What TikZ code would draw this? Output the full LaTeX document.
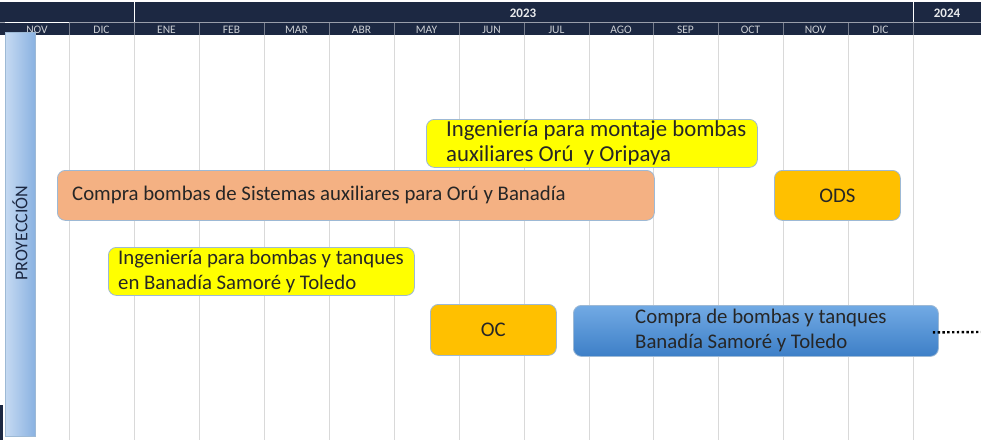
\documentclass[tikz,border=0pt]{standalone}
\usepackage{fontspec}
\setmainfont{Carlito}
\usepackage{tikz}

\definecolor{navy}{HTML}{1C2842}
\definecolor{gridgray}{HTML}{D9D9D9}
\definecolor{boxline}{HTML}{9DB9D5}
\definecolor{salmon}{HTML}{F4B183}
\definecolor{amber}{HTML}{FFC000}
\definecolor{lemon}{HTML}{FFFF00}
\definecolor{txt}{HTML}{262626}
\definecolor{bartop}{HTML}{72AAE4}
\definecolor{barbot}{HTML}{3D7FC7}
\definecolor{sideleft}{HTML}{C6DAF2}
\definecolor{sideright}{HTML}{8AB2E1}

\tikzset{
  month/.style={text=white!78!navy, font=\fontsize{11.5}{12}\selectfont},
  year/.style={text=white!90!navy, font=\bfseries\fontsize{13}{13}\selectfont},
  gridline/.style={gridgray, line width=0.8pt},
  task/.style={draw=boxline, line width=0.8pt, rounded corners=8pt, anchor=north west,
    inner sep=0pt},
  tasktext/.style={anchor=west, align=left, text=txt, inner sep=0pt,
    font=\fontsize{20.8}{25}\selectfont},
}

\begin{document}
\begin{tikzpicture}[x=1pt,y=-1pt]
\useasboundingbox (0,0) rectangle (981,440);
\fill[white] (0,0) rectangle (981,440);
% header
\fill[navy] (0,2) rectangle (981,35);
\draw[white, line width=1pt] (134,2) -- (134,22);
\draw[white, line width=1pt] (913,2) -- (913,22);
\draw[white!55!navy, line width=0.6pt] (0,22.5) -- (981,22.5);
\draw[white, line width=1.2pt] (5,22.5) -- (69,22.5);
\foreach \x in {69,134,199,264,329,394,459,524,589,653,718,783,848,913}
  \draw[white!40!navy, line width=0.6pt] (\x,23) -- (\x,35);
\node[year] (y2023) at (523,13) {2023};
\node[year] (y2024) at (947,13) {2024};
\foreach \m/\x in {NOV/37,DIC/101.5,ENE/166.5,FEB/231.5,MAR/296.5,ABR/361.5,MAY/426.5,JUN/491.5,JUL/556.5,AGO/621,SEP/685.5,OCT/750.5,NOV/815.5,DIC/880.5}
  \node[month] at (\x,29.5) {\m};
% grid
\foreach \x in {69,134,199,264,329,394,459,524,589,653,718,783,848,913}
  \draw[gridline] (\x,35) -- (\x,440);
% side bar
\fill[navy] (0,405) rectangle (3,440);
\shade[left color=sideleft, right color=sideright, draw=boxline, line width=0.5pt] (5,32) rectangle (35,436);
\node[rotate=90, text=navy, font=\fontsize{18}{18}\selectfont] (proy) at (20,233) {PROYECCIÓN};
% tasks
\node[task, fill=lemon, minimum width=331, minimum height=48] (ingoru) at (426,119) {};
\node[tasktext, font=\fontsize{22.8}{25}\selectfont] (ingoru-t) at ([xshift=20]ingoru.west)
  {Ingeniería para montaje bombas\\auxiliares Orú\ \ y Oripaya};
\node[task, fill=salmon, minimum width=597, minimum height=50] (compraoru) at (57,170) {};
\node[tasktext] (compraoru-t) at ([xshift=15]compraoru.west)
  {Compra bombas de Sistemas auxiliares para Orú y Banadía};
\node[task, fill=amber, minimum width=126, minimum height=50] (ods) at (774,170) {};
\node[tasktext, anchor=center] (ods-t) at (ods.center) {ODS};
\node[task, fill=lemon, minimum width=306, minimum height=48] (ingban) at (108,247) {};
\node[tasktext] (ingban-t) at ([xshift=10]ingban.west)
  {Ingeniería para bombas y tanques\\en Banadía Samoré y Toledo};
\node[task, fill=amber, minimum width=126, minimum height=51] (oc) at (430,304) {};
\node[tasktext, anchor=center] (oc-t) at (oc.center) {OC};
\node[task, top color=bartop, bottom color=barbot, minimum width=365, minimum height=51] (compraban) at (573,305) {};
\node[tasktext] (compraban-t) at ([xshift=62]compraban.west)
  {Compra de bombas y tanques\\Banadía Samoré y Toledo};
\coordinate (cont) at (981,332);
\draw[black, line width=2.4pt, dash pattern=on 2.4pt off 2.4pt] ([xshift=-6pt,yshift=-1.5pt]compraban.east) -- (cont);
\end{tikzpicture}
\end{document}
